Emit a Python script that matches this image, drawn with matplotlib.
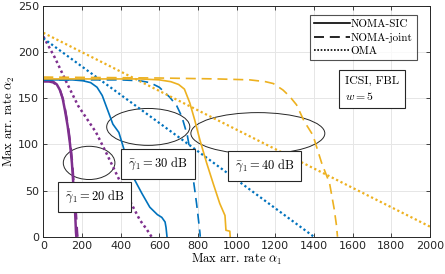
import numpy as np
import matplotlib
matplotlib.use("Agg")
import matplotlib.pyplot as plt
from matplotlib.patches import Ellipse

plt.rcParams['mathtext.fontset'] = 'cm'
plt.rcParams['axes.unicode_minus'] = False

# 20 dB (purple)
p_sic_x = [0, 30, 51, 70, 86, 100, 112, 126, 138, 148, 155, 160, 164, 167, 169, 171]
p_sic_y = [169, 169, 168, 165, 159, 150, 137, 120, 101, 80, 58, 42, 29, 15, 5, 0]
p_joint_x = [0, 30, 51, 70, 88, 102, 115, 129, 141, 151, 158, 164, 169, 173, 176, 178]
p_joint_y = [168, 168, 167, 164, 158, 149, 136, 119, 100, 79, 57, 41, 28, 14, 4, 0]
p_oma_x = [0, 60, 121, 180, 273, 330, 397, 450, 500, 535, 560]
p_oma_y = [217, 194, 167, 142, 113, 89, 60, 38, 18, 8, 0]

# 30 dB (blue)
b_sic_x = [0, 150, 205, 245, 278, 305, 328, 360, 391, 430, 464, 510, 551, 590, 613, 630, 635, 640]
b_sic_y = [170, 170, 169, 167, 162, 153, 140, 122, 113, 86, 65, 47, 32, 24, 21, 16, 10, 0]
b_joint_x = [0, 400, 500, 552, 600, 655, 690, 717, 745, 760, 775, 793, 803, 810, 812]
b_joint_y = [170, 170, 169, 167, 162, 151, 142, 130, 110, 92, 64, 36, 18, 5, 0]
b_oma_x = [0, 700, 1400]
b_oma_y = [215, 108, 0]

# 40 dB (yellow)
y_sic_x = [0, 500, 600, 660, 700, 730, 758, 784, 810, 845, 880, 913, 940, 945, 965, 967]
y_sic_y = [171, 171, 170, 168, 165, 160, 145, 126, 105, 80, 57, 36, 23, 7, 6, 0]
y_joint_x = [0, 600, 900, 1068, 1150, 1190, 1240, 1275, 1310, 1350, 1395, 1440, 1481, 1505, 1517, 1522]
y_joint_y = [173, 172, 171, 170, 168, 166, 159, 152, 143, 125, 110, 80, 58, 30, 12, 0]
y_oma_x = [0, 1000, 2000]
y_oma_y = [221, 116, 11]

purple = '#7E2F8E'
blue = '#0072BD'
yellow = '#EDB120'

fig = plt.figure(figsize=(4.45, 2.74), dpi=100)
ax = fig.add_axes([0.0973, 0.136, 0.8687, 0.842])

lw = 1.2
dash = (0, (6, 3.5))
dot = (0, (1, 1.2))
ax.plot(p_sic_x, p_sic_y, color=purple, lw=1.8)
ax.plot(p_joint_x, p_joint_y, color=purple, lw=1.5, linestyle=dash)
ax.plot(p_oma_x, p_oma_y, color=purple, lw=1.8, linestyle=dot)
ax.plot(b_sic_x, b_sic_y, color=blue, lw=lw)
ax.plot(b_joint_x, b_joint_y, color=blue, lw=lw, linestyle=dash)
ax.plot(b_oma_x, b_oma_y, color=blue, lw=1.6, linestyle=dot)
ax.plot(y_sic_x, y_sic_y, color=yellow, lw=lw)
ax.plot(y_joint_x, y_joint_y, color=yellow, lw=lw, linestyle=dash)
ax.plot(y_oma_x, y_oma_y, color=yellow, lw=1.6, linestyle=dot)

# legend handles
ax.plot([], [], color='k', lw=1.2, label='NOMA-SIC')
ax.plot([], [], color='k', lw=1.2, linestyle=dash, label='NOMA-joint')
ax.plot([], [], color='k', lw=1.2, linestyle=(0, (1, 1)), label='OMA')
handles, labels = ax.get_legend_handles_labels()
leg = ax.legend(handles[-3:], labels[-3:], loc='upper right', bbox_to_anchor=(0.967, 0.961),
                prop={'family': 'cmr10', 'size': 8}, frameon=True, fancybox=False,
                edgecolor='#262626', handlelength=3.2, handletextpad=0.1,
                borderpad=0.4, labelspacing=0.3, borderaxespad=0)
leg.get_frame().set_linewidth(0.8)

# ellipses
ells = [(237, 80, 267, 36), (543, 119, 430, 40), (1110, 112, 693, 45)]
for cx, cy, w, h in ells:
    ax.add_patch(Ellipse((cx, cy), w, h, fill=False, edgecolor='#262626', lw=0.7))

box = dict(boxstyle='square,pad=0.55', facecolor='white', edgecolor='#262626', lw=0.8)
ax.text(265, 43.5, r'$\bar{\gamma}_1 = 20$ dB', family='cmr10', fontsize=9,
        ha='center', va='center', bbox=box)
ax.text(593, 79, r'$\bar{\gamma}_1 = 30$ dB', family='cmr10', fontsize=9,
        ha='center', va='center', bbox=box)
ax.text(1145, 77, r'$\bar{\gamma}_1 = 40$ dB', family='cmr10', fontsize=9,
        ha='center', va='center', bbox=box)
ax.text(1562, 160, 'ICSI, FBL\n' + r'$w = 5$', family='cmr10', fontsize=8.5,
        ha='left', va='center', linespacing=1.4,
        bbox=dict(boxstyle='square,pad=0.5', facecolor='white', edgecolor='#262626', lw=0.8))

ax.set_xlim(0, 2000)
ax.set_ylim(0, 250)
ax.set_xticks(np.arange(0, 2001, 200))
ax.set_yticks(np.arange(0, 251, 50))
ax.grid(True, color='#e6e6e6', lw=0.7)
ax.set_axisbelow(True)
ax.tick_params(direction='in', top=True, right=True, length=3, width=0.6,
               labelsize=8, colors='#262626', pad=3)
for lab in ax.get_xticklabels() + ax.get_yticklabels():
    lab.set_family('DejaVu Sans')
for s in ax.spines.values():
    s.set_color('#262626')
    s.set_linewidth(0.7)

ax.set_xlabel(r'Max arr. rate $\alpha_1$', family='cmr10', fontsize=9, labelpad=1)
ax.set_ylabel(r'Max arr. rate $\alpha_2$', family='cmr10', fontsize=9, labelpad=1)

fig.savefig('out.png', dpi=100)
